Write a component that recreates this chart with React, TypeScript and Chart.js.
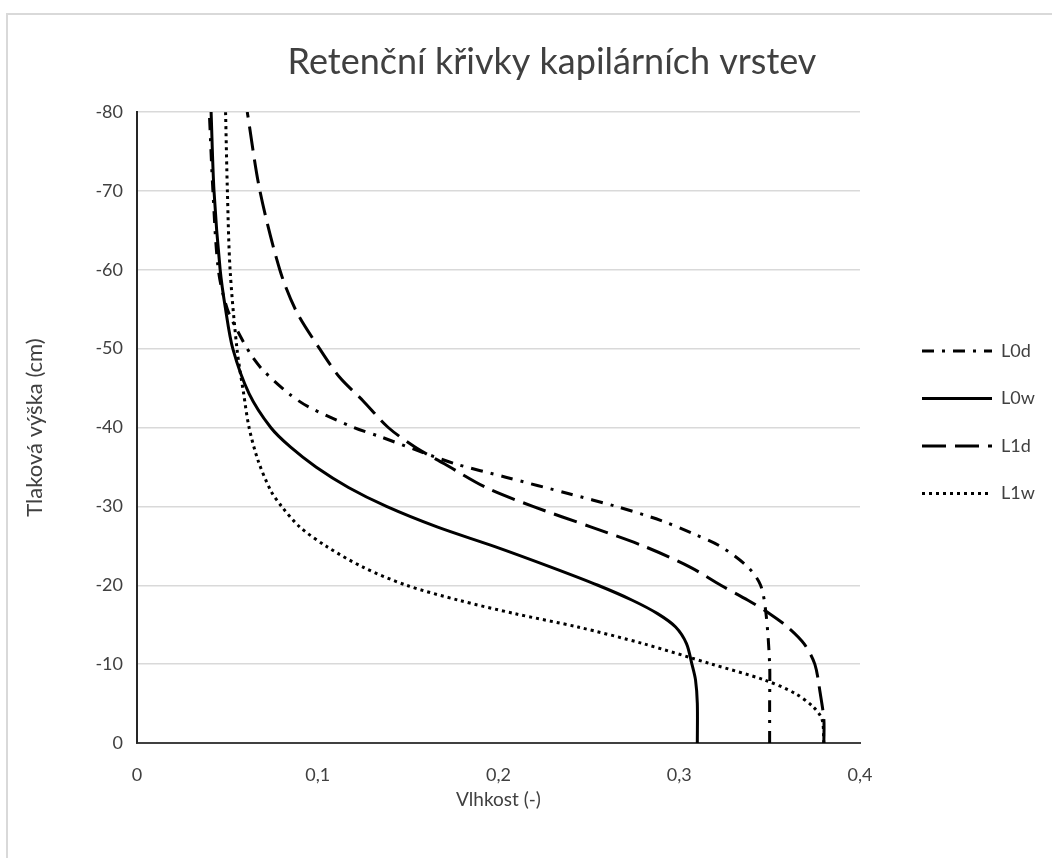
import React, { useEffect, useRef } from 'react';
import { Chart, registerables } from 'chart.js';

Chart.register(...registerables);

// ---------- data ----------
const TITLE = 'Retenční křivky kapilárních vrstev';
const X_TITLE = 'Vlhkost (-)';
const Y_TITLE = 'Tlaková výška (cm)';
const SERIES_NAMES = ['L0d', 'L0w', 'L1d', 'L1w'];

const X_TICK_VALUES = [0, 0.1, 0.2, 0.3, 0.4];
const X_TICK_LABELS = ['0', '0,1', '0,2', '0,3', '0,4'];
const Y_TICK_VALUES = [-80, -70, -60, -50, -40, -30, -20, -10, 0];
const Y_TICK_LABELS = ['-80', '-70', '-60', '-50', '-40', '-30', '-20', '-10', '0'];

// L0d (dash-dot)
const L0D_H = [0, -5, -10, -16.4, -20, -22.3, -24.9, -26.5, -28.2, -30, -31.6, -33.7, -35.4, -37.1, -38.8, -40, -42.6, -44.3, -47.2, -48.9, -51, -55, -60, -70, -80];
const L0D_THETA = [0.35, 0.35, 0.35, 0.348, 0.345, 0.338, 0.323, 0.308, 0.29, 0.265, 0.239, 0.204, 0.176, 0.155, 0.135, 0.12, 0.095, 0.084, 0.07, 0.064, 0.0585, 0.05, 0.045, 0.042, 0.04];

// L0w (solid)
const L0W_H = [0, -5, -8, -10, -12.6, -14.7, -16.4, -18.1, -20, -22.3, -24.9, -27.4, -30, -32.4, -35, -37.5, -40, -44.3, -50, -55, -60, -70, -80];
const L0W_THETA = [0.31, 0.31, 0.309, 0.307, 0.304, 0.298, 0.288, 0.274, 0.255, 0.229, 0.198, 0.166, 0.138, 0.117, 0.099, 0.085, 0.074, 0.062, 0.053, 0.049, 0.046, 0.0426, 0.041];

// L1d (long dash)
const L1D_H = [0, -3, -6.3, -10, -12.6, -14.7, -16.4, -18.1, -20, -22.3, -24.9, -27.4, -30, -32.4, -35.4, -37.5, -40, -43.4, -46.4, -50, -54.8, -60, -70, -80];
const L1D_THETA = [0.38, 0.38, 0.378, 0.375, 0.369, 0.36, 0.35, 0.338, 0.323, 0.306, 0.281, 0.251, 0.219, 0.193, 0.17, 0.154, 0.139, 0.125, 0.112, 0.101, 0.088, 0.079, 0.068, 0.061];

// L1w (dotted)
const L1W_H = [0, -3, -4.6, -6.3, -8, -10, -12.6, -14.7, -16.4, -18.1, -20, -22.3, -24.9, -27.4, -30, -32, -35.8, -40, -44.3, -50, -60, -70, -80];
const L1W_THETA = [0.38, 0.379, 0.374, 0.364, 0.347, 0.318, 0.28, 0.244, 0.209, 0.178, 0.149, 0.125, 0.105, 0.09, 0.08, 0.074, 0.067, 0.062, 0.059, 0.0553, 0.0515, 0.05, 0.049];

// ---------- styling ----------
const FONT = 'Lato, "Open Sans", sans-serif';
const TEXT = '#404040';
const CANVAS_W = 1104;
const CANVAS_H = 858;
const PLOT_RIGHT = 860;
const LEGEND_LINE_W = 70;
const LEGEND_FONT = 18;
const LEGEND_PAD = 10;
const LEGEND_ITEM_H = 37.5;
const LEGEND_LEFT_GAP = 52;

const pts = (theta: number[], h: number[]) => theta.map((t, i) => ({ x: t, y: h[i] }));

// draws the dashed legend swatches at the positions Chart.js' legend laid out
const legendLines = {
  id: 'legendLines',
  afterDraw(chart: any) {
    const lg = chart.legend;
    if (!lg || !lg.legendHitBoxes) return;
    const ctx = chart.ctx;
    lg.legendHitBoxes.forEach((hb: any, i: number) => {
      const ds = chart.data.datasets[i];
      if (!ds) return;
      const y = hb.top + hb.height / 2;
      ctx.save();
      ctx.beginPath();
      ctx.setLineDash(ds.borderDash || []);
      ctx.lineWidth = ds.borderWidth;
      ctx.strokeStyle = ds.borderColor;
      ctx.lineCap = 'butt';
      ctx.moveTo(hb.left, y);
      ctx.lineTo(hb.left + LEGEND_LINE_W, y);
      ctx.stroke();
      ctx.restore();
    });
  },
};

export default function App() {
  const ref = useRef<HTMLCanvasElement | null>(null);

  useEffect(() => {
    if (!ref.current) return;
    const base = { borderColor: '#000', backgroundColor: '#000', borderWidth: 3, pointRadius: 0, fill: false, tension: 0.3 };
    const chart = new Chart(ref.current, {
      type: 'line',
      data: {
        datasets: [
          { ...base, label: SERIES_NAMES[0], data: pts(L0D_THETA, L0D_H), borderDash: [12, 8, 3, 8] },
          { ...base, label: SERIES_NAMES[1], data: pts(L0W_THETA, L0W_H) },
          { ...base, label: SERIES_NAMES[2], data: pts(L1D_THETA, L1D_H), borderDash: [24, 9] },
          { ...base, label: SERIES_NAMES[3], data: pts(L1W_THETA, L1W_H), borderDash: [3, 4] },
        ] as any,
      },
      plugins: [legendLines],
      options: {
        animation: false,
        responsive: false,
        maintainAspectRatio: false,
        devicePixelRatio: 1,
        layout: { padding: 0 },
        plugins: {
          title: {
            display: true,
            text: TITLE,
            color: TEXT,
            font: { family: FONT, size: 36, weight: 'normal' },
            padding: { top: 40.4, bottom: 28.4 },
          },
          legend: {
            position: 'right',
            align: 'start',
            title: { display: true, text: ' ', font: { size: 10 }, padding: { top: 310.25, bottom: 0 } },
            labels: {
              usePointStyle: false,
              boxWidth: LEGEND_LINE_W,
              boxHeight: LEGEND_ITEM_H,
              padding: LEGEND_PAD,
              color: TEXT,
              font: { family: FONT, size: LEGEND_FONT },
              generateLabels: (c: any) =>
                (Chart.defaults.plugins.legend.labels.generateLabels as any)(c).map((l: any) => ({
                  ...l,
                  lineWidth: 0,
                  lineDash: [],
                  strokeStyle: 'rgba(0,0,0,0)',
                  fillStyle: 'rgba(0,0,0,0)',
                })),
            },
          },
          tooltip: { enabled: false },
        },
        scales: {
          x: {
            type: 'linear',
            position: 'bottom',
            min: 0,
            max: 0.4,
            ticks: {
              stepSize: 0.1,
              padding: 21.2,
              maxRotation: 0,
              color: TEXT,
              font: { family: FONT, size: 18 },
              callback: (v: any) => {
                const k = X_TICK_VALUES.findIndex((t) => Math.abs(t - v) < 1e-9);
                return k >= 0 ? X_TICK_LABELS[k] : '';
              },
            },
            grid: { display: false, drawTicks: false },
            border: { display: true, color: '#404040', width: 2 },
            title: { display: true, text: X_TITLE, color: TEXT, font: { family: FONT, size: 19 }, padding: { top: 0, bottom: 46.6 } },
            afterFit: (s: any) => { s.height = 115; },
          },
          y: {
            type: 'linear',
            position: 'left',
            min: -80,
            max: 0,
            reverse: true,
            ticks: {
              stepSize: 10,
              padding: 14,
              color: TEXT,
              font: { family: FONT, size: 18 },
              callback: (v: any) => {
                const k = Y_TICK_VALUES.findIndex((t) => Math.abs(t - v) < 1e-9);
                return k >= 0 ? Y_TICK_LABELS[k] : '';
              },
            },
            grid: { color: '#d9d9d9', lineWidth: 1.5, drawTicks: false },
            border: { display: true, color: '#262626', width: 2 },
            title: { display: true, text: Y_TITLE, color: TEXT, font: { family: FONT, size: 22 }, padding: { top: 21.8, bottom: 0 } },
            afterFit: (s: any) => { s.width = 137; },
          },
          padNear: {
            type: 'linear',
            position: 'right',
            display: true,
            grid: { display: false, drawTicks: false },
            border: { display: false },
            ticks: { display: false },
            afterFit: (s: any) => { s.width = LEGEND_LEFT_GAP; },
          },
          padFar: {
            type: 'linear',
            position: 'right',
            display: true,
            weight: 2000,
            grid: { display: false, drawTicks: false },
            border: { display: false },
            ticks: { display: false },
            afterFit: (s: any) => {
              const lw = s.chart.legend ? s.chart.legend.width : 0;
              s.width = Math.max(0, s.chart.width - PLOT_RIGHT - LEGEND_LEFT_GAP - lw);
            },
          },
        } as any,
      },
    });
    return () => chart.destroy();
  }, []);

  return (
    <div style={{ position: 'absolute', left: 0, top: 0, width: 1052, height: 858, overflow: 'hidden', background: '#fff' }}>
      <div style={{ position: 'absolute', left: 6, top: 13, width: 2000, height: 2000, borderTop: '2px solid #d9d9d9', borderLeft: '2px solid #d9d9d9' }} />
      <canvas ref={ref} width={CANVAS_W} height={CANVAS_H} style={{ position: 'absolute', left: 0, top: 0, width: CANVAS_W, height: CANVAS_H }} />
    </div>
  );
}
